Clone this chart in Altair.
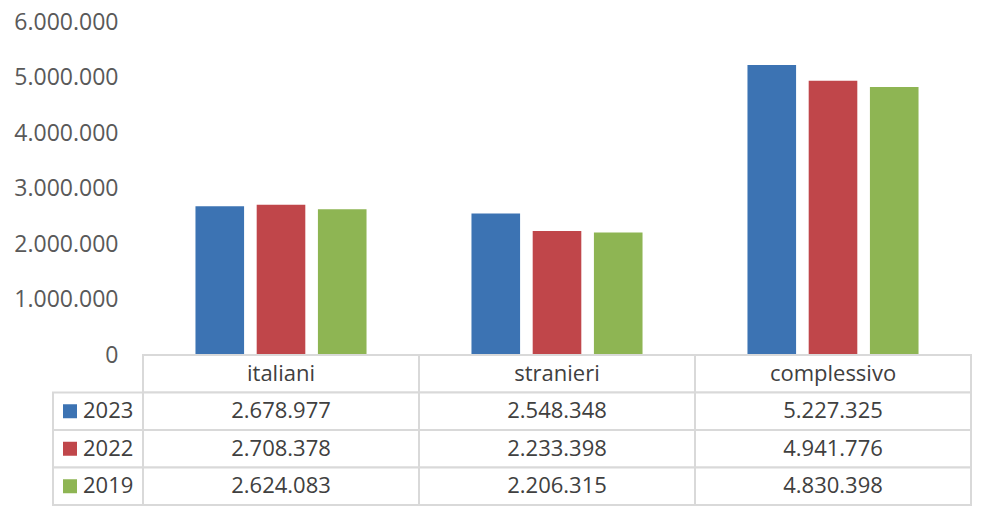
import altair as alt
import pandas as pd

categories = ["italiani", "stranieri", "complessivo"]
years = ["2023", "2022", "2019"]
v2023 = [2678977, 2548348, 5227325]
v2022 = [2708378, 2233398, 4941776]
v2019 = [2624083, 2206315, 4830398]
colors = ["#3C73B3", "#C0464A", "#8EB553"]
y_ticks = [0, 1000000, 2000000, 3000000, 4000000, 5000000, 6000000]

series = {"2023": v2023, "2022": v2022, "2019": v2019}

rows = []
for yr in years:
    for cat, v in zip(categories, series[yr]):
        rows.append({"cat": cat, "year": yr, "value": v,
                     "label": f"{v:,}".replace(",", ".")})
df = pd.DataFrame(rows)

row_order = ["hdr"] + years
cells = []
for cat in categories:
    cells.append({"cat": cat, "row": "hdr", "text": cat})
for r in rows:
    cells.append({"cat": r["cat"], "row": r["year"], "text": r["label"]})
cells_df = pd.DataFrame(cells)
legend_df = pd.DataFrame({"row": years, "year": years})

FONT = "Open Sans"
TXT = "#404040"
GRID = "#D9D9D9"
W = 828

color_scale = alt.Scale(domain=years, range=colors)
x_scale = alt.Scale(domain=categories, paddingInner=0, paddingOuter=0)

bars = alt.Chart(df).mark_bar().encode(
    x=alt.X("cat:N", scale=x_scale, sort=categories, axis=None),
    xOffset=alt.XOffset("year:N", sort=years,
                        scale=alt.Scale(paddingInner=0.206, paddingOuter=0.857)),
    y=alt.Y("value:Q", scale=alt.Scale(domain=[0, 6000000], nice=False),
            axis=alt.Axis(values=y_ticks, title=None, grid=False, domain=False,
                          ticks=False, tickSize=0, labelPadding=25,
                          labelFontSize=23, labelFont=FONT, labelColor="#595959",
                          labelExpr="replace(format(datum.value, ','), regexp(',', 'g'), '.')")),
    color=alt.Color("year:N", scale=color_scale, legend=None),
).properties(width=W, height=333)

y_tab = alt.Y("row:N", sort=row_order, scale=alt.Scale(domain=row_order, paddingInner=0, paddingOuter=0), axis=None)

cell_rects = alt.Chart(cells_df).mark_rect(fill="white", stroke=GRID, strokeWidth=2).encode(
    x=alt.X("cat:N", scale=x_scale, sort=categories, axis=None),
    y=y_tab,
)
cell_text = alt.Chart(cells_df).mark_text(font=FONT, fontSize=22, color=TXT).encode(
    x=alt.X("cat:N", scale=x_scale, sort=categories, axis=None),
    y=y_tab,
    text="text:N",
)
leg_rects = alt.Chart(legend_df).mark_rect(fill="white", stroke=GRID, strokeWidth=2).encode(
    x=alt.value(-90), x2=alt.value(0), y=y_tab,
)
leg_sq = alt.Chart(legend_df).mark_square(size=196, opacity=1).encode(
    x=alt.value(-73), y=y_tab,
    color=alt.Color("year:N", scale=color_scale, legend=None),
)
leg_txt = alt.Chart(legend_df).mark_text(font=FONT, fontSize=22, color=TXT, align="left").encode(
    x=alt.value(-60), y=y_tab, text="year:N",
)
table = alt.layer(cell_rects, cell_text, leg_rects, leg_sq, leg_txt).properties(width=W, height=150)

chart = alt.vconcat(bars, table, spacing=0, bounds="flush").properties(
    padding={"left": 5, "top": 3, "right": 0, "bottom": 0}
).configure_view(strokeWidth=0)

chart.save("out.html", embed_options={"renderer": "svg", "actions": False})
